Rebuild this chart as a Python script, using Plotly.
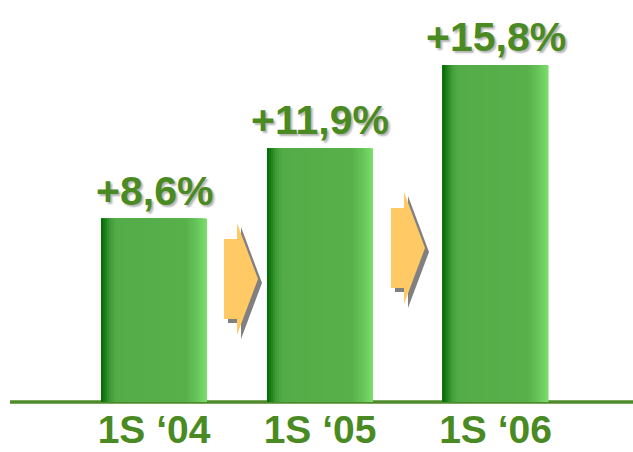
import plotly.graph_objects as go

# Data
periods = ["1S \u201804", "1S \u201805", "1S \u201806"]
growth = [8.6, 11.9, 15.8]
growth_labels = ["+8,6%", "+11,9%", "+15,8%"]

# Layout constants (x axis runs in pixel-like units across the page width)
W, H = 633, 452
MARGIN_B = 50
PLOT_H = H - MARGIN_B
BAR_CENTERS = [154, 320, 495.5]
BAR_W = 106
Y_TOP = 18.85

GREEN_TEXT = "#4A8A22"
ARROW_FILL = "#FFC966"
SHADOW = "#808080"
FONT = "Liberation Sans, Arial, sans-serif"

# horizontal gradient stops across a bar (fraction of width, rgb)
STOPS = [
    (0.00, (0, 104, 0)),
    (0.04, (30, 128, 26)),
    (0.09, (66, 158, 58)),
    (0.15, (84, 172, 72)),
    (0.80, (88, 176, 75)),
    (0.90, (101, 196, 88)),
    (1.00, (124, 222, 108)),
]


def grad(f):
    for (f0, c0), (f1, c1) in zip(STOPS, STOPS[1:]):
        if f <= f1:
            t = 0 if f1 == f0 else (f - f0) / (f1 - f0)
            return "rgb(%d,%d,%d)" % tuple(round(a + (b - a) * t) for a, b in zip(c0, c1))
    return "rgb(%d,%d,%d)" % STOPS[-1][1]


fig = go.Figure()

# Bars: left-anchored slices drawn from widest to narrowest give a smooth horizontal gradient
STEP = 2
ends = list(range(BAR_W, 0, -STEP))
for end in ends:
    fig.add_trace(go.Bar(
        x=BAR_CENTERS,
        y=growth,
        width=end,
        offset=-BAR_W / 2,
        marker=dict(color=grad((end - STEP / 2) / BAR_W), line=dict(width=0)),
        hoverinfo="skip",
        showlegend=False,
    ))

# value labels sitting above each bar top
annotations = [
    dict(x=cx, y=v, xref="x", yref="y", text=lab, showarrow=False,
         xanchor="center", yanchor="bottom", yshift=3,
         font=dict(family=FONT, size=41, color=GREEN_TEXT, weight="bold",
                   shadow="2px 2px 2px #b4b4b4"))
    for cx, v, lab in zip(BAR_CENTERS, growth, growth_labels)
]


def px_path(points, dx=0, dy=0):
    """Pixel points -> SVG path in (x, paper-y) coordinates."""
    parts = []
    for k, (px, py) in enumerate(points):
        xx = px + dx
        yy = (PLOT_H - (py + dy)) / PLOT_H
        parts.append(("M" if k == 0 else "L") + f"{xx},{yy:.5f}")
    return " ".join(parts) + " Z"


def arrow(x0, y0):
    # block arrow: body 13 wide x 80 tall, head 21 long x 112 tall
    return [(x0, y0 + 16), (x0 + 13, y0 + 16), (x0 + 13, y0), (x0 + 34, y0 + 56),
            (x0 + 13, y0 + 112), (x0 + 13, y0 + 96), (x0, y0 + 96)]


shapes = [
    dict(type="line", xref="x", yref="paper", x0=10, x1=W, y0=0, y1=0,
         line=dict(color="#4E8B2B", width=3.5), layer="below"),
]
for ax, ay in [(224, 223), (391, 192)]:
    pts = arrow(ax, ay)
    shapes.append(dict(type="path", xref="x", yref="paper", path=px_path(pts, 4, 4),
                       fillcolor=SHADOW, line=dict(width=0), layer="above"))
    shapes.append(dict(type="path", xref="x", yref="paper", path=px_path(pts),
                       fillcolor=ARROW_FILL, line=dict(width=0), layer="above"))

fig.update_layout(
    width=W, height=H,
    margin=dict(l=0, r=0, t=0, b=MARGIN_B, pad=0, autoexpand=False),
    paper_bgcolor="white", plot_bgcolor="white",
    barmode="overlay",
    shapes=shapes,
    annotations=annotations,
    xaxis=dict(range=[0, W], tickvals=BAR_CENTERS, ticktext=periods,
               tickfont=dict(family=FONT, size=39, color=GREEN_TEXT, weight="bold"),
               ticklabelstandoff=1, automargin=False,
               showgrid=False, zeroline=False, showline=False, ticks="",
               fixedrange=True),
    yaxis=dict(range=[0, Y_TOP], visible=False, fixedrange=True, automargin=False),
    hovermode=False,
)

fig.write_html("out.html", config={"displayModeBar": False})
